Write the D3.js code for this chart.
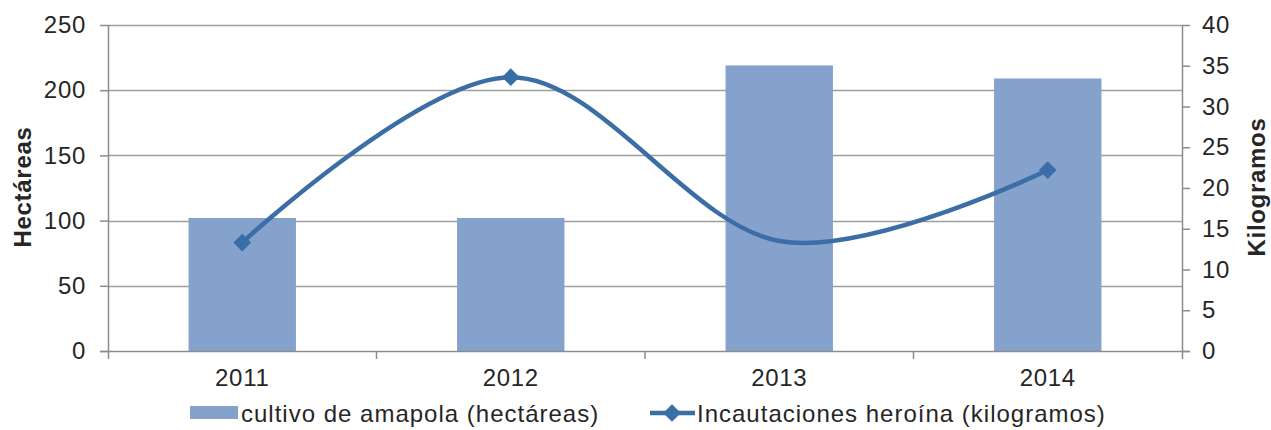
<!DOCTYPE html>
<html>
<head>
<meta charset="utf-8">
<script src="https://cdn.jsdelivr.net/npm/d3@7"></script>
<style>
  body { margin: 0; background: #fff; }
  svg { display: block; }
  text { font-family: "Liberation Sans", Arial, sans-serif; fill: #262626; }
</style>
</head>
<body>
<svg id="chart" width="1271" height="430"></svg>
<script>
// data
const years = ["2011", "2012", "2013", "2014"];
const hectareas = [102, 102, 219, 209];
const kilogramos = [13.3, 33.6, 13.5, 22.2];
const showMarker = [true, true, false, true];
const leftTicks = [0, 50, 100, 150, 200, 250];
const rightTicks = [0, 5, 10, 15, 20, 25, 30, 35, 40];

const barName = "cultivo de amapola (hectáreas)";
const lineName = "Incautaciones heroína (kilogramos)";

const config = {
  width: 1271,
  height: 430,
  margin: { top: 25, bottom: 79, left: 108, right: 89 }
};

const svg = d3.select("#chart");
const width = config.width - config.margin.left - config.margin.right;
const height = config.height - config.margin.top - config.margin.bottom;

const chart = svg.append("g")
  .attr("transform", `translate(${config.margin.left},${config.margin.top})`);

const xScale = d3.scaleBand().domain(years).range([0, width]).padding(0);
const yLeft = d3.scaleLinear().domain([0, 250]).range([height, 0]);
const yRight = d3.scaleLinear().domain([0, 40]).range([height, 0]);

const gridColor = "#9e9e9e";
const axisColor = "#8c8c8c";
const fontSize = 24;
const spacing = "0.7px";

// gridlines
chart.append("g")
  .selectAll("line")
  .data(leftTicks.filter(d => d > 0))
  .join("line")
    .attr("x1", 0)
    .attr("x2", width)
    .attr("y1", d => Math.round(yLeft(d)) + 0.5)
    .attr("y2", d => Math.round(yLeft(d)) + 0.5)
    .attr("stroke", gridColor)
    .attr("stroke-width", 1.5);

// bars
const barWidth = xScale.bandwidth() * 0.4;
chart.append("g")
  .selectAll("rect")
  .data(years)
  .join("rect")
    .attr("x", (d, i) => xScale(d) + (xScale.bandwidth() - barWidth) / 2)
    .attr("y", (d, i) => yLeft(hectareas[i]))
    .attr("width", barWidth)
    .attr("height", (d, i) => yLeft(0) - yLeft(hectareas[i]))
    .attr("fill", "#84a2cb");

// left axis
const leftAxis = chart.append("g")
  .call(d3.axisLeft(yLeft).tickValues(leftTicks).tickSize(8).tickPadding(14).tickSizeOuter(0));
leftAxis.select(".domain").remove();
leftAxis.append("line")
  .attr("x1", 0.5).attr("x2", 0.5).attr("y1", 0).attr("y2", height + 8)
  .attr("stroke", axisColor).attr("stroke-width", 1.5);

// right axis
const rightAxis = chart.append("g")
  .attr("transform", `translate(${width},0)`)
  .call(d3.axisRight(yRight).tickValues(rightTicks).tickSize(8).tickPadding(12).tickSizeOuter(0));
rightAxis.select(".domain").remove();
rightAxis.append("line")
  .attr("x1", 0.5).attr("x2", 0.5).attr("y1", 0).attr("y2", height + 8)
  .attr("stroke", axisColor).attr("stroke-width", 1.5);

// x axis
const xAxis = chart.append("g")
  .attr("transform", `translate(0,${height})`)
  .call(d3.axisBottom(xScale).tickSize(0).tickPadding(18));
xAxis.select(".domain").remove();
xAxis.append("line")
  .attr("x1", -8).attr("x2", width + 8).attr("y1", 0.5).attr("y2", 0.5)
  .attr("stroke", axisColor).attr("stroke-width", 1.5);
xAxis.append("g")
  .selectAll("line")
  .data(years.slice(1))
  .join("line")
    .attr("x1", d => xScale(d)).attr("x2", d => xScale(d))
    .attr("y1", 0).attr("y2", 8)
    .attr("stroke", axisColor).attr("stroke-width", 1.5);

svg.selectAll(".tick line").attr("stroke", axisColor).attr("stroke-width", 1.5);
svg.selectAll(".tick text")
  .attr("font-size", fontSize)
  .attr("letter-spacing", spacing)
  .attr("font-family", "Liberation Sans, Arial, sans-serif")
  .attr("fill", "#262626");

// line series
const linePoints = years.map((d, i) => [xScale(d) + xScale.bandwidth() / 2, yRight(kilogramos[i])]);
const lineColor = "#3b6da6";
chart.append("path")
  .datum(linePoints)
  .attr("d", d3.line().curve(d3.curveCatmullRom.alpha(0)))
  .attr("fill", "none")
  .attr("stroke", lineColor)
  .attr("stroke-width", 4.5)
  .attr("stroke-linecap", "round");

const diamond = d3.symbol().type(d3.symbolDiamond2).size(200);
chart.append("g")
  .selectAll("path")
  .data(linePoints.filter((d, i) => showMarker[i]))
  .join("path")
    .attr("transform", d => `translate(${d[0]},${d[1]})`)
    .attr("d", diamond)
    .attr("fill", lineColor);

// axis titles
svg.append("text")
  .attr("transform", "translate(31,187) rotate(-90)")
  .attr("text-anchor", "middle")
  .attr("font-size", fontSize)
  .attr("font-weight", "bold")
  .attr("letter-spacing", spacing)
  .attr("fill", "#000")
  .text("Hectáreas");

svg.append("text")
  .attr("transform", "translate(1265,187) rotate(-90)")
  .attr("text-anchor", "middle")
  .attr("font-size", fontSize)
  .attr("font-weight", "bold")
  .attr("letter-spacing", spacing)
  .attr("fill", "#000")
  .text("Kilogramos");

// legend
const legend = svg.append("g").attr("transform", "translate(0,413)");
legend.append("rect")
  .attr("x", 190).attr("y", -7).attr("width", 48).attr("height", 13)
  .attr("fill", "#84a2cb");
legend.append("text")
  .attr("x", 241).attr("y", 9)
  .attr("font-size", fontSize)
  .attr("letter-spacing", "1px")
  .text(barName);

legend.append("line")
  .attr("x1", 650).attr("x2", 695).attr("y1", 0).attr("y2", 0)
  .attr("stroke", lineColor).attr("stroke-width", 4.5);
legend.append("path")
  .attr("transform", "translate(672,0)")
  .attr("d", diamond)
  .attr("fill", lineColor);
legend.append("text")
  .attr("x", 697).attr("y", 9)
  .attr("font-size", fontSize)
  .attr("letter-spacing", "1px")
  .text(lineName);
</script>
</body>
</html>
